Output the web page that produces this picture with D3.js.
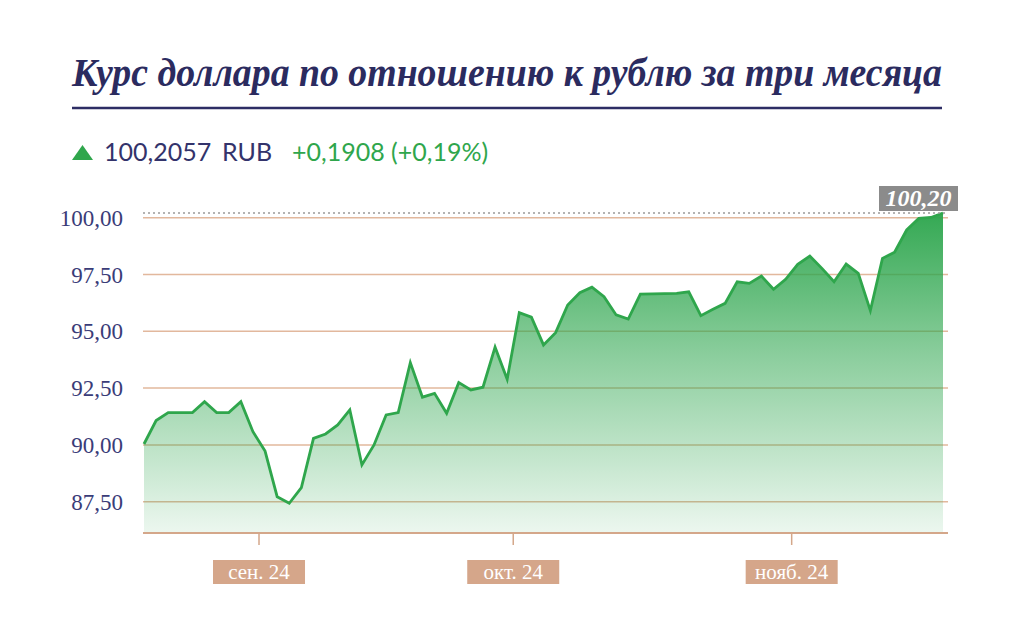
<!DOCTYPE html>
<html>
<head>
<meta charset="utf-8">
<script src="https://cdn.jsdelivr.net/npm/d3@7"></script>
<style>
  html, body { margin: 0; padding: 0; background: #ffffff; }
  svg { display: block; }
</style>
</head>
<body>
<svg id="chart" width="1024" height="633"></svg>
<script>
// ---------- DATA ----------
const titleText = "Курс доллара по отношению к рублю за три месяца";
const lastValueText = "100,2057";
const currencyText = "RUB";
const changeText = "+0,1908 (+0,19%)";
const lastLabelText = "100,20";

const dates = [
  "2024-08-19","2024-08-20","2024-08-21","2024-08-22","2024-08-23",
  "2024-08-26","2024-08-27","2024-08-28","2024-08-29","2024-08-30",
  "2024-09-02","2024-09-03","2024-09-04","2024-09-05","2024-09-06",
  "2024-09-09","2024-09-10","2024-09-11","2024-09-12","2024-09-13",
  "2024-09-16","2024-09-17","2024-09-18","2024-09-19","2024-09-20",
  "2024-09-23","2024-09-24","2024-09-25","2024-09-26","2024-09-27",
  "2024-09-30","2024-10-01","2024-10-02","2024-10-03","2024-10-04",
  "2024-10-07","2024-10-08","2024-10-09","2024-10-10","2024-10-11",
  "2024-10-14","2024-10-15","2024-10-16","2024-10-17","2024-10-18",
  "2024-10-21","2024-10-22","2024-10-23","2024-10-24","2024-10-25",
  "2024-10-28","2024-10-29","2024-10-30","2024-10-31","2024-11-01",
  "2024-11-04","2024-11-05","2024-11-06","2024-11-07","2024-11-08",
  "2024-11-11","2024-11-12","2024-11-13","2024-11-14","2024-11-15",
  "2024-11-18","2024-11-19"
];

const rates = [
  90.04, 91.07, 91.42, 91.42, 91.42, 91.90, 91.42, 91.42, 91.90, 90.58,
  89.73, 87.72, 87.43, 88.12, 90.29, 90.48, 90.88, 91.54, 89.12, 90.00,
  91.32, 91.42, 93.62, 92.10, 92.27, 91.39, 92.74, 92.42, 92.54, 94.30,
  92.89, 95.82, 95.62, 94.40, 94.94, 96.16, 96.70, 96.94, 96.52, 95.72,
  95.54, 96.64, 96.65, 96.66, 96.67, 96.74, 95.69, 95.97, 96.23, 97.18,
  97.11, 97.43, 96.85, 97.29, 97.95, 98.31, 97.77, 97.18, 97.96, 97.55,
  95.91, 98.21, 98.48, 99.46, 99.97, 100.01, 100.2057
];

const yTicks = [87.5, 90, 92.5, 95, 97.5, 100];
const monthKeys = ["2024-09", "2024-10", "2024-11"];
const monthLabels = ["сен. 24", "окт. 24", "нояб. 24"];

// ---------- LAYOUT ----------
const navy = "#33336b";
const green = "#2fa64c";
const grid = "#e2b89d";
const axisCol = "#d4a78a";

const plotLeft = 143, plotRight = 948, plotBottom = 533;

const svg = d3.select("#chart");

const x = d3.scalePoint().domain(dates).range([144, 943]);
const y = d3.scaleLinear().domain([87.5, 100]).range([501.7, 217.7]);

const data = dates.map((d, i) => ({ d, v: rates[i] }));

// ---------- TITLE ----------
const title = svg.append("text")
  .attr("x", 72).attr("y", 86)
  .attr("font-family", "'Liberation Serif', serif")
  .attr("font-weight", "bold").attr("font-style", "italic")
  .attr("font-size", 39)
  .attr("fill", "#2b2b5f")
  .text(titleText);
title.attr("textLength", 870).attr("lengthAdjust", "spacingAndGlyphs");

svg.append("line")
  .attr("x1", 72).attr("x2", 942).attr("y1", 108).attr("y2", 108)
  .attr("stroke", "#2d2d64").attr("stroke-width", 2.5);

// ---------- LEGEND ----------
svg.append("path")
  .attr("d", "M72,160 L93,160 L82.5,145 Z")
  .attr("fill", green);
const lg = svg.append("text")
  .attr("y", 161)
  .attr("font-family", "Lato, 'Open Sans', sans-serif")
  .attr("font-size", 25);
lg.append("tspan").attr("x", 104).attr("fill", navy).text(lastValueText);
lg.append("tspan").attr("x", 222).attr("fill", navy).text(currencyText);
lg.append("tspan").attr("x", 292).attr("fill", green).text(changeText);

// ---------- GRID ----------
svg.append("g").selectAll("line")
  .data(yTicks).join("line")
  .attr("x1", plotLeft).attr("x2", plotRight)
  .attr("y1", d => y(d)).attr("y2", d => y(d))
  .attr("stroke", grid).attr("stroke-width", 1.5);

svg.append("g").selectAll("text")
  .data(yTicks).join("text")
  .attr("x", 123).attr("y", d => y(d)).attr("dy", "0.35em")
  .attr("text-anchor", "end")
  .attr("font-family", "'Liberation Serif', serif")
  .attr("font-size", 23)
  .attr("fill", "#3a3c78")
  .text(d => d3.format(".2f")(d).replace(".", ","));

// ---------- AREA ----------
const defs = svg.append("defs");
const grad = defs.append("linearGradient")
  .attr("id", "areaGrad")
  .attr("gradientUnits", "userSpaceOnUse")
  .attr("x1", 0).attr("x2", 0)
  .attr("y1", y(d3.max(rates))).attr("y2", plotBottom);
grad.append("stop").attr("offset", 0).attr("stop-color", "#2ea64e").attr("stop-opacity", 0.97);
grad.append("stop").attr("offset", 0.45).attr("stop-color", "#2ea64e").attr("stop-opacity", 0.55);
grad.append("stop").attr("offset", 1).attr("stop-color", "#2ea64e").attr("stop-opacity", 0.09);

svg.append("path")
  .datum(data)
  .attr("fill", "url(#areaGrad)")
  .attr("d", d3.area().x(d => x(d.d)).y0(plotBottom).y1(d => y(d.v)));

svg.append("path")
  .datum(data)
  .attr("fill", "none")
  .attr("stroke", green).attr("stroke-width", 2.8)
  .attr("stroke-linejoin", "miter")
  .attr("d", d3.line().x(d => x(d.d)).y(d => y(d.v)));

// ---------- LAST VALUE ----------
const lastV = rates[rates.length - 1];
svg.append("line")
  .attr("x1", plotLeft).attr("x2", plotRight)
  .attr("y1", y(lastV)).attr("y2", y(lastV))
  .attr("stroke", "#9a9a9a").attr("stroke-width", 1.5)
  .attr("stroke-dasharray", "2,3");

svg.append("rect")
  .attr("x", 879).attr("y", 186).attr("width", 79).attr("height", 25)
  .attr("fill", "#8b8b8b");
svg.append("text")
  .attr("x", 918.5).attr("y", 206)
  .attr("text-anchor", "middle")
  .attr("font-family", "'Liberation Serif', serif")
  .attr("font-weight", "bold").attr("font-style", "italic")
  .attr("font-size", 24)
  .attr("fill", "#ffffff")
  .text(lastLabelText);

// ---------- X AXIS ----------
svg.append("line")
  .attr("x1", plotLeft).attr("x2", plotRight)
  .attr("y1", plotBottom).attr("y2", plotBottom)
  .attr("stroke", axisCol).attr("stroke-width", 2);

const tickPos = monthKeys.map(k => {
  const i = dates.findIndex(d => d.startsWith(k));
  return (x(dates[i - 1]) + x(dates[i])) / 2;
});

const xt = svg.append("g").selectAll("g")
  .data(monthLabels).join("g")
  .attr("transform", (d, i) => `translate(${tickPos[i]},0)`);
xt.append("line")
  .attr("y1", plotBottom).attr("y2", plotBottom + 12)
  .attr("stroke", axisCol).attr("stroke-width", 1.5);
xt.append("rect")
  .attr("x", -46).attr("y", 560).attr("width", 92).attr("height", 24)
  .attr("fill", "#d5a68a");
xt.append("text")
  .attr("y", 579).attr("text-anchor", "middle")
  .attr("font-family", "'Liberation Serif', serif")
  .attr("font-size", 21)
  .attr("fill", "#ffffff")
  .text(d => d);
</script>
</body>
</html>
